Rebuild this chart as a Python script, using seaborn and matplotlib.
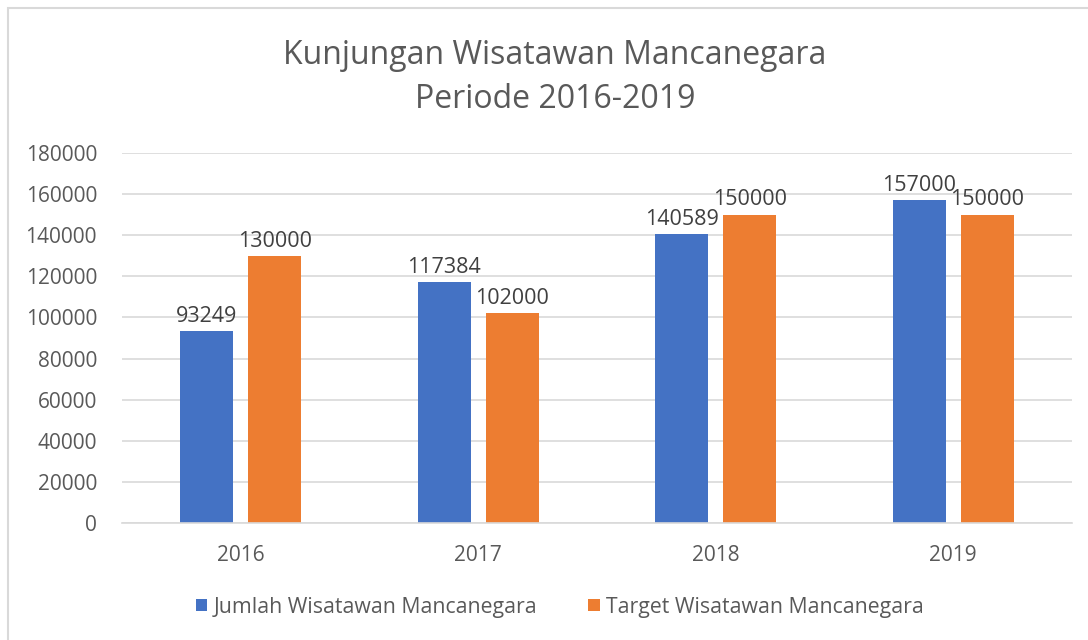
import matplotlib
matplotlib.use("Agg")
import matplotlib.pyplot as plt
from matplotlib.patches import Rectangle
import pandas as pd
import seaborn as sns

years = ["2016", "2017", "2018", "2019"]
jumlah = [93249, 117384, 140589, 157000]
target = [130000, 102000, 150000, 150000]
series = ["Jumlah Wisatawan Mancanegara", "Target Wisatawan Mancanegara"]
colors = ["#4472C4", "#ED7D31"]

df = pd.DataFrame({
    "Tahun": years * 2,
    "Nilai": jumlah + target,
    "Seri": [series[0]] * 4 + [series[1]] * 4,
})

sns.set_theme(style="white")
plt.rcParams["font.family"] = ["Open Sans", "DejaVu Sans"]
txt = "#595959"
grid = "#d9d9d9"

fig = plt.figure(figsize=(10.88, 6.4), dpi=100)
ax = fig.add_axes([122 / 1088, 1 - 523 / 640, 950 / 1088, 370 / 640])

sns.barplot(data=df, x="Tahun", y="Nilai", hue="Seri", palette=colors,
            width=0.573, gap=0.22, ax=ax, legend=True, saturation=1,
            linewidth=0)

for cont in ax.containers:
    ax.bar_label(cont, fmt="%d", padding=3, fontsize=15.5, color="#404040")

ax.set_ylim(0, 180000)
ax.set_yticks(range(0, 180001, 20000))
ax.set_xlim(-0.5, 3.5)
ax.yaxis.grid(True, color=grid, linewidth=1.2)
ax.set_axisbelow(True)
for s in ["left", "right", "top"]:
    ax.spines[s].set_visible(False)
ax.spines["bottom"].set_color(grid)
ax.spines["bottom"].set_linewidth(1.2)
ax.tick_params(axis="y", length=0, pad=18, labelsize=15, labelcolor=txt)
ax.tick_params(axis="x", length=0, pad=16, labelsize=15, labelcolor=txt)
ax.set_xlabel("")
ax.set_ylabel("")

ax.legend(loc="center", bbox_to_anchor=((560 - 122) / 950, -(607 - 523) / 370),
          ncol=2, frameon=False, fontsize=15.3, labelcolor=txt,
          handlelength=0.55, handleheight=0.55, handletextpad=0.3,
          columnspacing=2.4)

fig.text(555 / 1088, 1 - 55 / 640, "Kunjungan Wisatawan Mancanegara", ha="center",
         va="center", fontsize=23, color=txt)
fig.text(555 / 1088, 1 - 100 / 640, "Periode 2016-2019", ha="center", va="center",
         fontsize=23, color=txt)

fig.patches.append(Rectangle((8 / 1088, -0.05), 1.1, 1 - 8 / 640 + 0.05,
                             transform=fig.transFigure, fill=False,
                             edgecolor=grid, linewidth=1.5))

fig.savefig("out.png", dpi=100)
